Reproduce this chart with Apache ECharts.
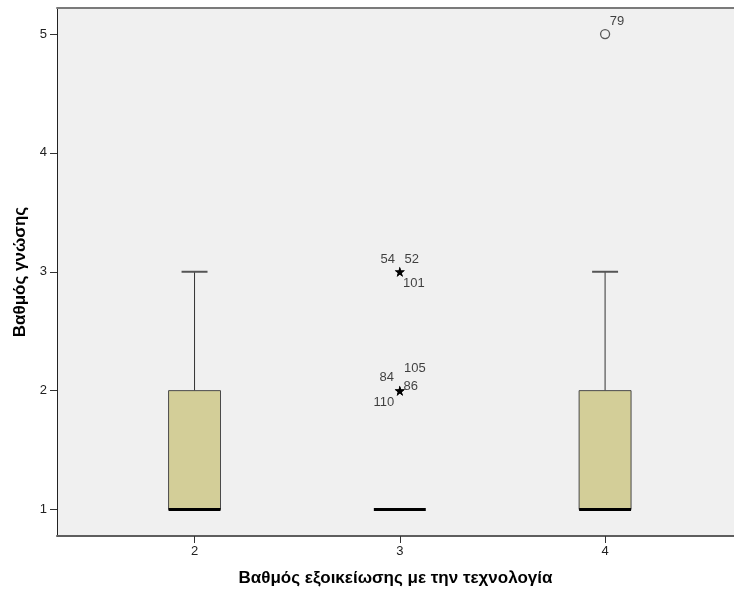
<!DOCTYPE html>
<html>
<head>
<meta charset="utf-8">
<title>Βαθμός γνώσης</title>
<script src="https://cdn.jsdelivr.net/npm/echarts@6/dist/echarts.min.js"></script>
<style>
html, body { margin: 0; padding: 0; background: #fff; }
#chart { width: 734px; height: 594px; }
</style>
</head>
<body>
<div id="chart"></div>
<script>
// κατηγορίες (x) και στατιστικά κουτιών: min, Q1, διάμεσος, Q3, max
var categories = [2, 3, 4];
var boxMin    = [1, 1, 1];
var boxQ1     = [1, 1, 1];
var boxMedian = [1, 1, 1];
var boxQ3     = [2, 1, 2];
var boxMax    = [3, 1, 3];

// ακραίες τιμές (αστέρια)
var extremeX   = [3, 3, 3, 3, 3, 3, 3];
var extremeY   = [3, 3, 3, 2, 2, 2, 2];
var extremeIds = ['54', '52', '101', '105', '84', '86', '110'];

// έκτοπες τιμές (κύκλοι)
var outlierX   = [4];
var outlierY   = [5];
var outlierIds = ['79'];

var yTicks = [1, 2, 3, 4, 5];

// μετατόπιση ετικετών σε px (μόνο στυλ)
var labelShift = {
    '54': [-12, -12], '52': [12, -12], '101': [14, 12],
    '105': [15, -22], '84': [-13, -13], '86': [11, -4], '110': [-16, 12],
    '79': [12, -13]
};

var BOX_W = 0.253; // πλάτος κουτιού σε μονάδες άξονα x
var FONT = '"Liberation Sans", Arial, sans-serif';

var myChart = echarts.init(document.getElementById('chart'));

var boxData = categories.map(function (c, i) {
    return [c, boxMin[i], boxQ1[i], boxMedian[i], boxQ3[i], boxMax[i]];
});

function pointData(xs, ys, ids) {
    return xs.map(function (x, i) {
        var s = labelShift[ids[i]] || [10, -10];
        return {
            value: [x, ys[i]],
            label: { formatter: ids[i], offset: s }
        };
    });
}

var starPath = 'path://M50,0 L61,35 L98,35 L68,57 L79,91 L50,70 L21,91 L32,57 L2,35 L39,35 Z';

var option = {
    animation: false,
    backgroundColor: '#ffffff',
    grid: {
        left: 57, right: 0, top: 8, bottom: 58,
        show: true, backgroundColor: '#F0F0F0', borderWidth: 0
    },
    xAxis: [{
        type: 'value',
        min: 1.33, max: 4.628,
        position: 'bottom',
        splitLine: { show: false },
        axisLine: { show: true, onZero: false, lineStyle: { color: '#5e5e5e', width: 2 } },
        axisTick: { show: true, length: 7, customValues: categories, lineStyle: { color: '#333', width: 1 } },
        axisLabel: { customValues: categories, color: '#222', fontSize: 13, fontFamily: FONT, margin: 9 },
        name: 'Βαθμός εξοικείωσης με την τεχνολογία',
        nameLocation: 'middle',
        nameGap: 34,
        nameTextStyle: { color: '#000', fontSize: 17, fontWeight: 'bold', fontFamily: FONT }
    }, {
        type: 'value',
        min: 1.33, max: 4.628,
        position: 'top',
        splitLine: { show: false },
        axisLine: { show: true, onZero: false, lineStyle: { color: '#7a7a7a', width: 2 } },
        axisTick: { show: false },
        axisLabel: { show: false }
    }],
    yAxis: {
        type: 'value',
        min: 0.777, max: 5.219,
        splitLine: { show: false },
        axisLine: { show: true, onZero: false, lineStyle: { color: '#222', width: 1 } },
        axisTick: { show: true, length: 7, customValues: yTicks, lineStyle: { color: '#333', width: 1 } },
        axisLabel: { customValues: yTicks, color: '#222', fontSize: 13, fontFamily: FONT, margin: 10 },
        name: 'Βαθμός γνώσης',
        nameLocation: 'middle',
        nameGap: 28,
        nameRotate: 90,
        nameTextStyle: { color: '#000', fontSize: 17, fontWeight: 'bold', fontFamily: FONT }
    },
    series: [
        {
            type: 'custom',
            data: boxData,
            encode: { x: 0, y: [1, 2, 3, 4, 5] },
            renderItem: function (params, api) {
                var x = api.value(0);
                var pMin = api.coord([x, api.value(1)]);
                var pQ1 = api.coord([x, api.value(2)]);
                var pMed = api.coord([x, api.value(3)]);
                var pQ3 = api.coord([x, api.value(4)]);
                var pMax = api.coord([x, api.value(5)]);
                var half = api.size([BOX_W, 0])[0] / 2;
                var cx = pMed[0];
                var kids = [];
                if (api.value(5) > api.value(4)) {
                    kids.push({ type: 'line', shape: { x1: cx, y1: pQ3[1], x2: cx, y2: pMax[1] },
                        style: { stroke: '#333', lineWidth: 1 } });
                    kids.push({ type: 'line', shape: { x1: cx - half / 2, y1: pMax[1], x2: cx + half / 2, y2: pMax[1] },
                        style: { stroke: '#555', lineWidth: 2 } });
                }
                if (api.value(1) < api.value(2)) {
                    kids.push({ type: 'line', shape: { x1: cx, y1: pQ1[1], x2: cx, y2: pMin[1] },
                        style: { stroke: '#333', lineWidth: 1 } });
                    kids.push({ type: 'line', shape: { x1: cx - half / 2, y1: pMin[1], x2: cx + half / 2, y2: pMin[1] },
                        style: { stroke: '#555', lineWidth: 2 } });
                }
                if (api.value(4) > api.value(2)) {
                    kids.push({ type: 'rect',
                        shape: { x: cx - half, y: pQ3[1], width: half * 2, height: pQ1[1] - pQ3[1] },
                        style: { fill: '#D3CE98', stroke: '#4a4a4a', lineWidth: 1 } });
                }
                kids.push({ type: 'line', shape: { x1: cx - half, y1: pMed[1], x2: cx + half, y2: pMed[1] },
                    style: { stroke: '#000', lineWidth: 3 } });
                return { type: 'group', children: kids };
            },
            z: 2
        },
        {
            type: 'scatter',
            data: pointData(extremeX, extremeY, extremeIds),
            symbol: starPath,
            symbolSize: 10,
            itemStyle: { color: '#000' },
            label: { show: true, position: 'inside', color: '#111', fontSize: 13, fontFamily: FONT },
            z: 3
        },
        {
            type: 'scatter',
            data: pointData(outlierX, outlierY, outlierIds),
            symbol: 'circle',
            symbolSize: 9,
            itemStyle: { color: 'rgba(0,0,0,0)', borderColor: '#333', borderWidth: 1.3 },
            label: { show: true, position: 'inside', color: '#111', fontSize: 13, fontFamily: FONT },
            z: 3
        }
    ]
};

myChart.setOption(option);
window.addEventListener('resize', function () { myChart.resize(); });
</script>
</body>
</html>
